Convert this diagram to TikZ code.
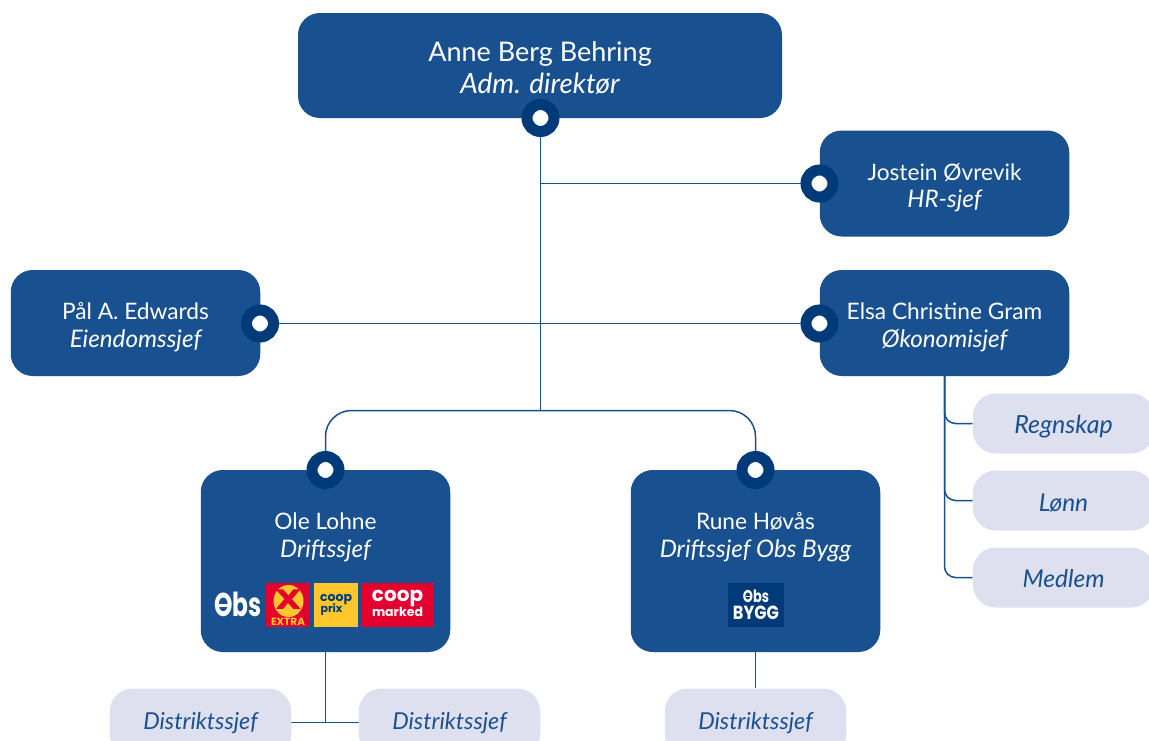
\documentclass[tikz,border=0pt]{standalone}
\usepackage{fontspec}
\setmainfont{Lato}
\newfontfamily\logofont{Poppins}
\definecolor{boxblue}{HTML}{19508F}
\definecolor{ringblue}{HTML}{003A78}
\definecolor{paleblue}{HTML}{DFE0EF}
\definecolor{logored}{HTML}{E2002F}
\definecolor{logoyellow}{HTML}{FFC72C}
\newcommand{\twol}[4][24.2]{\raisebox{#2}[0pt][0pt]{\begin{tabular}{@{}c@{}}#3\\\fontsize{#1}{27}\selectfont\itshape #4\end{tabular}}}
\newcommand{\onel}[3][23.3]{\raisebox{#2}[0pt][0pt]{\fontsize{#1}{25}\selectfont #3}}
\pgfdeclarelayer{connlayer}
\pgfsetlayers{connlayer,main}
\tikzset{
  bluebox/.style={rectangle,rounded corners=22pt,fill=boxblue,text=white,inner sep=0pt,minimum width=#1,font=\fontsize{22.7}{27.5}\selectfont},
  bluebox/.default=249.5pt,
  palebox/.style={rectangle,rounded corners=23pt,fill=paleblue,text=boxblue,inner sep=0pt,minimum width=181.5pt,minimum height=60pt,font=\fontsize{23.3}{25}\selectfont\itshape},
  ring/.style={circle,fill=white,draw=ringblue,line width=11pt,minimum size=27pt,inner sep=0pt},
  conn/.style={draw=boxblue,line width=1.5pt},
  logotxt/.style={inner sep=0pt,text=#1},
  logobox/.style={inner sep=0pt,minimum height=44pt},
}
\begin{document}
\begin{tikzpicture}[x=1pt,y=-1pt]
\useasboundingbox (0,0) rectangle (1149,740);
\clip (0,0) rectangle (1149,740);

% boxes
\node[bluebox=484pt,minimum height=105pt,font=\fontsize{27}{32}\selectfont] (anne) at (540,65.5) {\twol[27.8]{-11.5pt}{Anne Berg Behring}{Adm. direktør}};
\node[bluebox,minimum height=106pt] (hr) at (944.5,183.5) {\twol{-10pt}{Jostein Øvrevik}{HR-sjef}};
\node[bluebox,minimum height=106pt] (elsa) at (944.5,323) {\twol{-10pt}{Elsa Christine Gram}{Økonomisjef}};
\node[bluebox,minimum height=106pt] (paal) at (135.5,323) {\twol{-10pt}{Pål A. Edwards}{Eiendomssjef}};
\node[bluebox,minimum height=182pt] (ole) at (325.5,561) {\twol{18pt}{Ole Lohne}{Driftssjef}};
\node[bluebox,minimum height=182pt] (rune) at (755.5,561) {\twol{18pt}{Rune Høvås}{Driftssjef Obs Bygg}};

% pale boxes
\node[palebox] (regn) at (1063.5,423.5) {\onel[25]{-10pt}{Regnskap}};
\node[palebox] (lonn) at (1063.5,500.5) {\onel[24.5]{-10.5pt}{Lønn}};
\node[palebox] (medl) at (1063.5,577.5) {\onel[24.5]{-10pt}{Medlem}};
\node[palebox,minimum height=68pt] (dist1) at (200.5,722.5) {\onel{-6.5pt}{Distriktssjef}};
\node[palebox,minimum height=68pt] (dist2) at (449.5,722.5) {\onel{-6.5pt}{Distriktssjef}};
\node[palebox,minimum height=68pt] (dist3) at (755.5,722.5) {\onel{-6.5pt}{Distriktssjef}};

% logos
\node[logotxt=white,font=\logofont\bfseries\fontsize{33}{33}\selectfont,xscale=.71] (obs) at (238,604.5) {Obs};
\fill[white] (219,604) rectangle (231,607);
\node[logobox,fill=logored,minimum width=44pt] (xtra) at (288,605) {};
\fill[logoyellow] (288.5,601) ellipse (15pt and 16pt);
\node[logotxt=logored,font=\logofont\bfseries\fontsize{28}{28}\selectfont,xscale=1.35] (xmark) at (288.5,600) {X};
\node[logotxt=logoyellow,font=\logofont\bfseries\fontsize{10.5}{11}\selectfont] (xtxt) at (288,622) {EXTRA};
\node[logobox,fill=logoyellow,minimum width=44pt] (prix) at (336,605) {};
\node[logotxt=ringblue,font=\logofont\bfseries\fontsize{12.5}{13}\selectfont] (priA) at (336,600) {coop};
\node[logotxt=ringblue,font=\logofont\bfseries\fontsize{11}{11}\selectfont] (priB) at (331.5,610) {prix};
\node[logobox,fill=logored,minimum width=72pt] (mark) at (398,605) {};
\node[logotxt=white,font=\logofont\bfseries\fontsize{20}{20}\selectfont] (marA) at (397.5,598) {coop};
\node[logotxt=white,font=\logofont\bfseries\fontsize{12.5}{13}\selectfont] (marB) at (397.5,612) {marked};
\node[logobox,fill=ringblue,minimum width=56pt] (bygg) at (756,605) {};
\node[logotxt=white,font=\logofont\bfseries\fontsize{17}{17}\selectfont,xscale=.76] (byA) at (756,596) {Obs};
\fill[white] (745.5,595.6) rectangle (751,597.2);
\node[logotxt=white,font=\logofont\bfseries\fontsize{19}{19}\selectfont,xscale=.85] (byB) at (756,613) {BYGG};

% rings
\node[ring] (ranne) at (540.5,118) {};
\node[ring] (rhr) at (819.5,183.5) {};
\node[ring] (relsa) at (819.5,323.5) {};
\node[ring] (rpaal) at (260,323.5) {};
\node[ring] (role) at (325.5,470) {};
\node[ring] (rrune) at (755.5,470) {};
\coordinate (bus) at (540.5,410.5);
\coordinate (hrj) at (540.5,183.5);

% connectors
\begin{pgfonlayer}{connlayer}
\draw[conn] (ranne) -- (bus);
\draw[conn] (hrj) -- (rhr);
\draw[conn] (rpaal) -- (relsa);
\draw[conn,rounded corners=26pt] (role) |- (bus) -| (rrune);
\draw[conn,rounded corners=11pt] (elsa.south) |- (regn.west);
\draw[conn,rounded corners=11pt] (elsa.south) |- (lonn.west);
\draw[conn,rounded corners=11pt] (elsa.south) |- (medl.west);
\draw[conn] (ole.south) -- (ole.south |- dist1.east);
\draw[conn] (dist1.east) -- (dist2.west);
\draw[conn] (rune.south) -- (dist3.north);
\end{pgfonlayer}
\end{tikzpicture}
\end{document}
